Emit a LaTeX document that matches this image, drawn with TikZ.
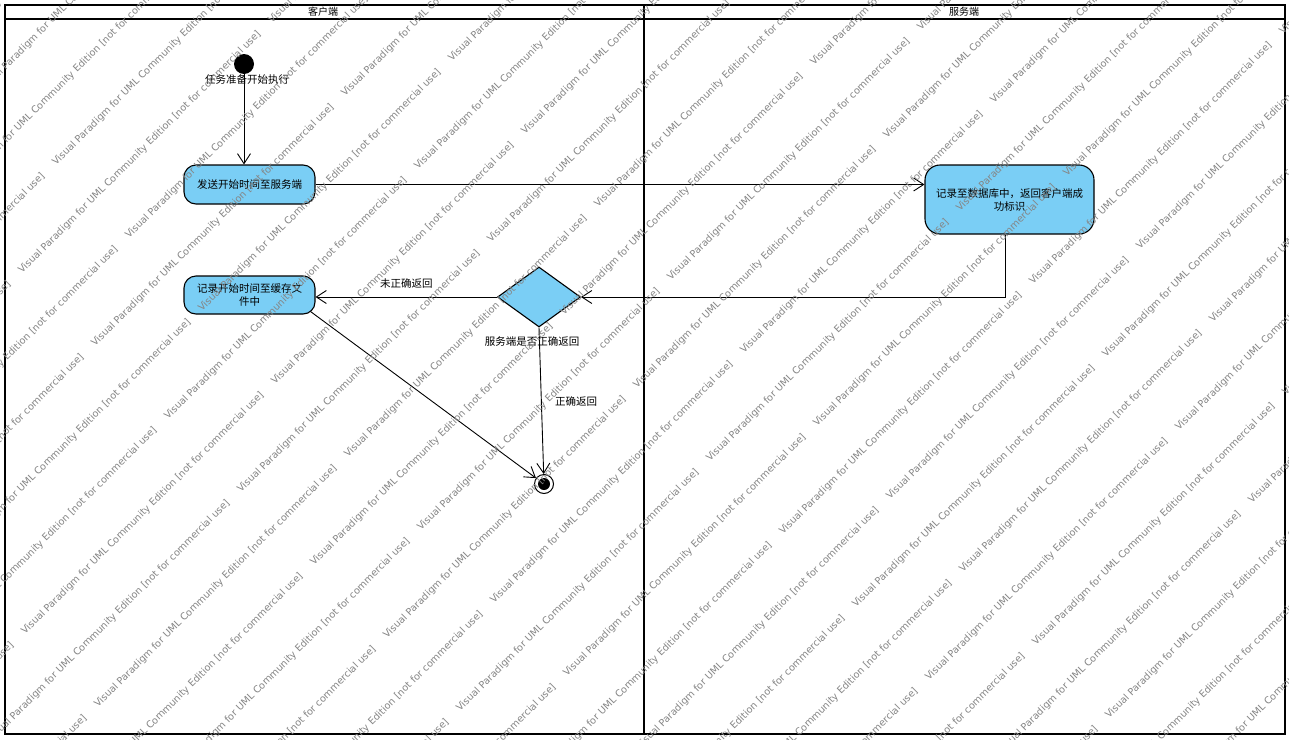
\documentclass[tikz,border=0pt]{standalone}
\usepackage{fontspec}
\usepackage{graphicx}
\newfontfamily\cjk{Noto Sans CJK SC}
\newfontfamily\wmfont{DejaVu Sans}
\usetikzlibrary{arrows.meta,shapes.geometric}
\definecolor{nodeblue}{RGB}{122,206,245}
\tikzset{
  act/.style={draw=black, line width=1.1pt, fill=nodeblue, rounded corners=12pt,
    inner sep=0pt, align=center, font=\cjk\fontsize{10.5}{13}\selectfont},
  lbl/.style={inner sep=0pt, font=\cjk\fontsize{10.5}{13}\selectfont},
  conn/.style={draw=black, line width=0.9pt},
  arr/.style={conn, -{Straight Barb[length=10pt,width=13pt,line width=0.9pt]}},
  frame/.style={draw=black, line width=1.8pt},
  wm/.style={anchor=base west, rotate=45, inner sep=0pt, text=black!48}
}
\newcommand{\wmtxt}{\resizebox{338pt}{!}{\wmfont Visual Paradigm for UML Community Edition [not for commercial use]}}
\begin{document}
\begin{tikzpicture}[x=1pt,y=-1pt]
\useasboundingbox (0,0) rectangle (1289,739);
\fill[white] (0,0) rectangle (1289,739);

% swimlane frame
\draw[frame] (5,5) rectangle (1285,734);
\draw[frame] (5,19) -- (1285,19);
\draw[frame] (644,5) -- (644,734);
\node[lbl, font=\cjk\fontsize{10}{12}\selectfont] (h1) at (323,11.5) {客户端};
\node[lbl, font=\cjk\fontsize{10}{12}\selectfont] (h2) at (964,11.5) {服务端};

% nodes
\node[circle, fill=black, minimum size=20pt, inner sep=0pt] (init) at (244,64) {};
\node[lbl] (initl) at (247,80) {任务准备开始执行};
\node[act, minimum width=131pt, minimum height=39pt] (a1) at (249.5,184.5) {发送开始时间至服务端};
\node[act, minimum width=169pt, minimum height=69pt, rounded corners=15pt, text width=160pt] (a2) at (1009.5,199.5) {记录至数据库中，返回客户端成\\功标识};
\node[diamond, draw=black, line width=1.1pt, fill=nodeblue, minimum width=83pt, minimum height=60pt, inner sep=0pt] (dec) at (539,297) {};
\node[lbl] (decl) at (532,341) {服务端是否正确返回};
\node[act, minimum width=131pt, minimum height=38pt] (a3) at (249.5,295) {记录开始时间至缓存文\\件中};
\node[circle, draw=black, line width=1pt, fill=white, minimum size=19pt, inner sep=0pt] (fin) at (544,484) {};
\node[circle, fill=black, minimum size=12pt, inner sep=0pt] (fini) at (fin) {};

% connectors
\coordinate (a1in) at (init.south |- a1.north);
\draw[arr] (init.south) -- (a1in);
\coordinate (a2in) at (a1.east -| a2.west);
\draw[arr] (a1.east) -- (a2in);
\coordinate (a2out) at ([xshift=-4.5pt]a2.south);
\draw[arr] (a2out) |- (dec.east);
\draw[arr] (dec.west) -- node[lbl, pos=0.5, yshift=14pt] (nl) {未正确返回} (dec.west -| a3.east);
\draw[arr] (dec.south) -- (fin);
\node[lbl] (yl) at (576,401) {正确返回};
\coordinate (a3out) at ([xshift=-5pt,yshift=3pt]a3.south east);
\draw[arr] (a3out) -- (fin);

% watermark
\begin{scope}
\clip (0,0) rectangle (1289,739);
\foreach \i in {-9,...,7}{
  \foreach \j in {-3,...,3}{
    \path (710+73*\i+250*\j, 462+73*\i-250*\j) node[wm] {\wmtxt};
    \path (817+73*\i+250*\j, 427+73*\i-250*\j) node[wm] {\wmtxt};
  }
}
\end{scope}
\end{tikzpicture}
\end{document}
